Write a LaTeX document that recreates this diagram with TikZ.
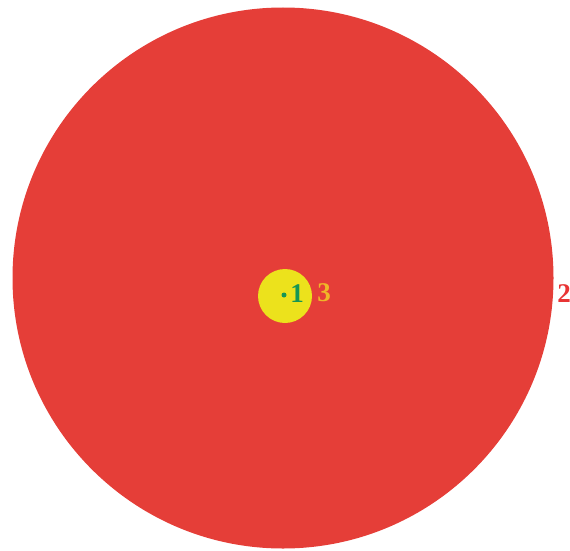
\documentclass[tikz,border=0pt]{standalone}
\usepackage{fontspec}
\setmainfont{Liberation Serif}
\definecolor{bigred}{RGB}{229,62,56}
\definecolor{sunyellow}{RGB}{236,226,28}
\definecolor{dotgreen}{RGB}{22,150,84}
\definecolor{labelorange}{RGB}{240,182,40}
\definecolor{labelred}{RGB}{232,52,52}
\tikzset{
  lbl/.style={font=\fontsize{27}{27}\selectfont\bfseries, inner sep=0pt, anchor=center}
}
\begin{document}
\begin{tikzpicture}[x=1pt,y=-1pt]
\useasboundingbox (0,0) rectangle (570,551);
\fill[bigred] (283,278) circle (270.5);
\fill[sunyellow] (285,296) circle (27);
\fill[dotgreen] (284,295) circle (2.5);
\node[lbl, text=dotgreen] (one) at (297,294) {1};
\node[lbl, text=labelorange] (three) at (324,293) {3};
\node[lbl, text=labelred] (two) at (564,294) {2};
\end{tikzpicture}
\end{document}
